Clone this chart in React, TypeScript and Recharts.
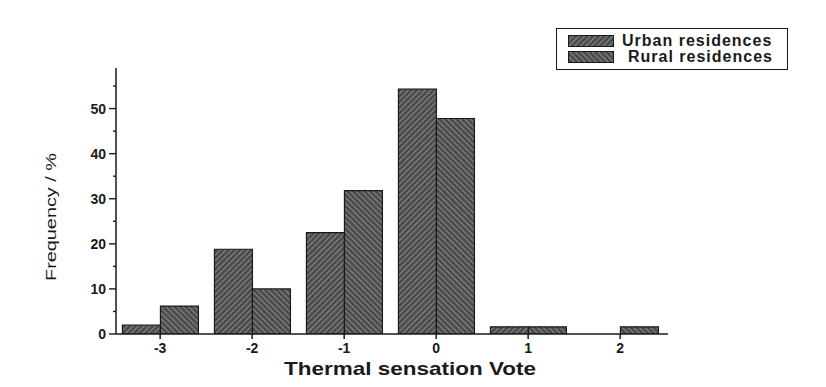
import { Bar, BarChart, XAxis, YAxis } from "recharts";

// Thermal sensation vote categories
const votes = [-3, -2, -1, 0, 1, 2];
const urban = [2, 18.8, 22.5, 54.3, 1.6, 0];
const rural = [6.2, 10, 31.8, 47.8, 1.6, 1.6];
const yTicks = [0, 5, 10, 15, 20, 25, 30, 35, 40, 45, 50, 55];
const xMinorTicks = [-3.5, -2.5, -1.5, -0.5, 0.5, 1.5, 2.5];

const rows = votes.map((v, i) => ({ vote: v, urban: urban[i], rural: rural[i] }));

const FONT = "'Liberation Sans', Arial, sans-serif";
const INK = "#1a1a1a";

function YTick(props: any) {
  const { x, y, payload } = props;
  const v = payload.value as number;
  const major = v % 10 === 0;
  const ax = x + 8; // axis line position
  return (
    <g>
      <line x1={ax} x2={ax - (major ? 7 : 3)} y1={y} y2={y} stroke={INK} strokeWidth={1.4} />
      {major && (
        <text x={ax - 10} y={y} dy={5} textAnchor="end" fontSize={14} fontWeight={700} fill={INK} fontFamily={FONT}>
          {v}
        </text>
      )}
    </g>
  );
}

// axis titles: stretched a bit to match the scanned original
function XTitle(props: any) {
  const { viewBox } = props;
  const cx = viewBox.x + viewBox.width / 2 + 18;
  const y = viewBox.y + viewBox.height - 12;
  return (
    <text x={cx} y={y} textAnchor="middle" fontSize={19} fontWeight={700} fill={INK} fontFamily={FONT}
      textLength={252} lengthAdjust="spacingAndGlyphs">
      Thermal sensation Vote
    </text>
  );
}

function YTitle(props: any) {
  const { viewBox } = props;
  const cx = 51;
  const cy = viewBox.y + viewBox.height / 2 + 16;
  return (
    <text x={cx} y={cy} dy={5} transform={`rotate(-90 ${cx} ${cy})`} textAnchor="middle" fontSize={15}
      fill={INK} fontFamily={FONT} textLength={128} lengthAdjust="spacingAndGlyphs">
      Frequency / %
    </text>
  );
}

function LegendBox() {
  const item = (fill: string, label: string, dx: number) => (
    <div style={{ display: "flex", alignItems: "center", height: 16 }}>
      <svg width={46} height={12} style={{ marginRight: 8 + dx }}>
        <rect x={0.5} y={0.5} width={45} height={11} fill={fill} stroke={INK} />
      </svg>
      <span>{label}</span>
    </div>
  );
  return (
    <div
      style={{
        position: "absolute",
        left: 556,
        top: 28,
        boxSizing: "border-box",
        width: 232,
        height: 42,
        border: `1.5px solid ${INK}`,
        padding: "4px 0 0 11px",
        fontFamily: FONT,
        fontSize: 16,
        fontWeight: 700,
        letterSpacing: 1,
        color: INK,
        lineHeight: "16px",
        whiteSpace: "nowrap",
      }}
    >
      {item("url(#hatchUrban)", "Urban residences", 0)}
      {item("url(#hatchRural)", "Rural residences", 6)}
    </div>
  );
}

export default function App() {
  return (
    <div style={{ position: "absolute", left: 0, top: 0, width: 826, height: 387, background: "#fff" }}>
      <svg width={0} height={0} style={{ position: "absolute" }}>
        <defs>
          <pattern id="hatchUrban" width={4} height={4} patternUnits="userSpaceOnUse" patternTransform="rotate(45)">
            <rect width={4} height={4} fill="#4d4d4d" />
            <line x1={0} y1={0} x2={0} y2={4} stroke="#b0b0b0" strokeWidth={1.2} />
          </pattern>
          <pattern id="hatchRural" width={4} height={4} patternUnits="userSpaceOnUse" patternTransform="rotate(-45)">
            <rect width={4} height={4} fill="#4d4d4d" />
            <line x1={0} y1={0} x2={0} y2={4} stroke="#b0b0b0" strokeWidth={1.2} />
          </pattern>
        </defs>
      </svg>
      <BarChart
        width={826}
        height={387}
        data={rows}
        margin={{ top: 68, right: 158, bottom: 0, left: 0 }}
        barCategoryGap="9%"
        barGap={0}
      >
        <XAxis
          dataKey="vote"
          type="number"
          domain={[-3.48, 2.52]}
          ticks={votes}
          allowDataOverflow
          height={53}
          stroke={INK}
          strokeWidth={1.5}
          tickSize={5}
          tickMargin={4}
          tick={{ fill: INK, fontSize: 14, fontWeight: 700, fontFamily: FONT }}
          label={<XTitle />}
        />
        <XAxis
          xAxisId="minor"
          dataKey="vote"
          type="number"
          domain={[-3.48, 2.52]}
          ticks={xMinorTicks}
          allowDataOverflow
          axisLine={false}
          tick={false}
          tickSize={3}
          height={0}
          stroke={INK}
        />
        <YAxis
          type="number"
          domain={[0, 59]}
          ticks={yTicks}
          interval={0}
          allowDataOverflow
          width={116}
          stroke={INK}
          strokeWidth={1.5}
          tickLine={false}
          tickSize={6}
          tickMargin={2}
          tick={<YTick />}
          label={<YTitle />}
        />
        <Bar dataKey="urban" name="Urban residences" fill="url(#hatchUrban)" stroke={INK} strokeWidth={1.2} isAnimationActive={false} />
        <Bar dataKey="rural" name="Rural residences" fill="url(#hatchRural)" stroke={INK} strokeWidth={1.2} isAnimationActive={false} />
      </BarChart>
      <LegendBox />
    </div>
  );
}
